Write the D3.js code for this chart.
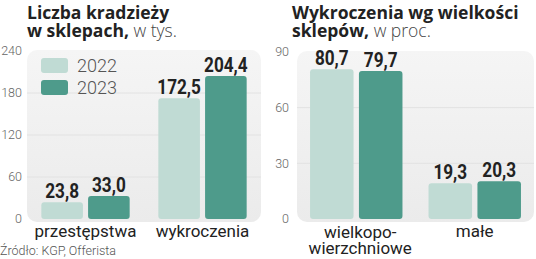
<!DOCTYPE html>
<html><head><meta charset="utf-8">
<script src="https://cdn.jsdelivr.net/npm/d3@7"></script>
<style>
body{margin:0;background:#fff;}
svg{display:block;font-family:Roboto, "Open Sans", sans-serif;}
</style></head>
<body><svg id="c" width="536" height="259"></svg>
<script>
const years = ["2022", "2023"];
const leftCategories = ["przestępstwa", "wykroczenia"];
const left2022 = [23.8, 172.5];
const left2023 = [33.0, 204.4];
const leftTicks = [0, 60, 120, 180, 240];
const rightCategories = ["wielkopo-\nwierzchniowe", "małe"];
const right2022 = [80.7, 19.3];
const right2023 = [79.7, 20.3];
const rightTicks = [0, 30, 60, 90];
const fmt = v => d3.format(".1f")(v).replace(".", ",");

const colors = {"2022": "#c0dbd4", "2023": "#4e9b8b"};
const svg = d3.select("#c");

const defs = svg.append("defs");
const g = defs.append("linearGradient").attr("id","pg").attr("x1",0).attr("y1",0).attr("x2",0).attr("y2",1);
g.append("stop").attr("offset","0%").attr("stop-color","#f5f5f5");
g.append("stop").attr("offset","100%").attr("stop-color","#ebebeb");

function panel(cfg){
  const {cats, s22, s23, ticks, xr, yr, yMax, panelY, tickX, titleLines, titleX} = cfg;
  const x0 = d3.scaleBand().domain(cats).range(xr).paddingInner(cfg.pi).paddingOuter(cfg.pi/2);
  const x1 = d3.scaleBand().domain(years).range([0, x0.bandwidth()]).paddingInner(0.11);
  const y = d3.scaleLinear().domain([0, yMax]).range(yr);
  svg.append("rect").attr("x", xr[0]).attr("y", panelY).attr("width", xr[1]-xr[0])
    .attr("height", yr[0]+3-panelY).attr("rx", 10).attr("fill", "url(#pg)");
  svg.append("g").selectAll("line").data(ticks.filter(t=>t>0 && t<yMax)).join("line")
    .attr("x1", xr[0]).attr("x2", xr[1]).attr("y1", d=>y(d)).attr("y2", d=>y(d))
    .attr("stroke", "#e2e2e2").attr("stroke-width", 1);
  svg.append("g").selectAll("text").data(ticks).join("text")
    .attr("x", tickX).attr("y", d=>y(d)).attr("dy","0.35em").attr("text-anchor","end")
    .attr("font-size", 12.5).attr("font-weight", 300).attr("fill", "#666").text(d=>d);
  const data = [];
  cats.forEach((c,i)=>{ data.push({c, yr:"2022", v:s22[i]}); data.push({c, yr:"2023", v:s23[i]}); });
  svg.append("g").selectAll("path").data(data).join("path")
    .attr("d", d=>{
      const bx = x0(d.c)+x1(d.yr), bw = x1.bandwidth(), by = y(d.v), bh = yr[0]-by, r = 3;
      return `M${bx},${by+r}Q${bx},${by} ${bx+r},${by}H${bx+bw-r}Q${bx+bw},${by} ${bx+bw},${by+r}V${by+bh-r}Q${bx+bw},${by+bh} ${bx+bw-r},${by+bh}H${bx+r}Q${bx},${by+bh} ${bx},${by+bh-r}Z`;
    })
    .attr("fill", d=>colors[d.yr]);
  svg.append("g").selectAll("text").data(data).join("text")
    .attr("transform", d=>`translate(${x0(d.c)+x1(d.yr)+x1.bandwidth()/2},${y(d.v)-4}) scale(0.86,1)`)
    .attr("text-anchor","middle").attr("font-size", 20).attr("font-weight", 700)
    .attr("fill", "#222").text(d=>fmt(d.v));
  cats.forEach(c=>{
    const lines = c.split("\n");
    const cx = x0(c)+x0.bandwidth()/2 + (lines.length>1?4:0);
    const t = svg.append("text").attr("x", cx).attr("y", lines.length>1?238:237)
      .attr("text-anchor","middle").attr("font-size", 17).attr("font-weight", 400).attr("fill","#222");
    lines.forEach((l,i)=>t.append("tspan").attr("x", cx).attr("dy", i?16:0).text(l));
  });
  titleLines.forEach((ln,i)=>{
    const t = svg.append("text").attr("x", titleX).attr("y", 19 + i*17.5).attr("font-size", 17.5)
      .attr("font-family", "'Open Sans', Roboto, sans-serif").attr("fill","#222");
    t.append("tspan").attr("font-weight", 700).text(ln[0]);
    if (ln[1]) t.append("tspan").attr("font-weight", 300).attr("fill","#444").text(ln[1]);
  });
  return {x0, x1, y};
}

panel({cats:leftCategories, s22:left2022, s23:left2023, ticks:leftTicks, xr:[27,261], yr:[219,51], yMax:240,
  panelY:50, tickX:22, pi:0.245, titleX:27,
  titleLines:[["Liczba kradzieży"],["w sklepach,", " w tys."]]});
panel({cats:rightCategories, s22:right2022, s23:right2023, ticks:rightTicks, xr:[297,534], yr:[219,52], yMax:90,
  panelY:51, tickX:289, pi:0.22, titleX:292,
  titleLines:[["Wykroczenia wg wielkości"],["sklepów,", " w proc."]]});

const lg = svg.append("g");
years.forEach((yv,i)=>{
  lg.append("rect").attr("x",41).attr("y",58+i*22).attr("width",27).attr("height",15).attr("rx",3).attr("fill",colors[yv]);
  lg.append("text").attr("x",77).attr("y",72+i*22).attr("font-size",18).attr("font-weight",300).attr("fill","#555").text(yv);
});

svg.append("text").attr("x",0).attr("y",255).attr("font-size",12.5).attr("font-weight",300).attr("fill","#555").text("Źródło: KGP, Offerista");
</script></body></html>
